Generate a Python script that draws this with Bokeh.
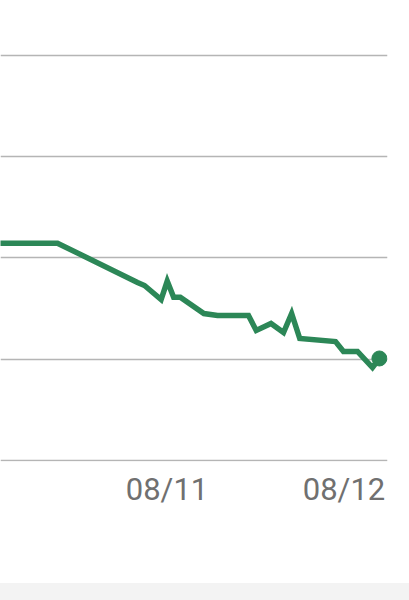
from datetime import datetime, timedelta
from bokeh.plotting import figure
from bokeh.models import Range1d, FixedTicker, Grid, DatetimeTickFormatter, Div, Column
from bokeh.embed import file_html
from bokeh.resources import INLINE

# hours relative to 08/12 00:00, and values
hours = [-48.0, -38.85, -28.0, -27.05, -24.8, -23.97, -23.1, -22.2, -19.0, -17.15,
         -12.95, -11.9, -9.9, -8.2, -7.1, -6.0, -1.15, -0.07, 1.83, 3.86, 4.8]
values = [41.46, 41.46, 37.59, 37.29, 35.91, 37.73, 36.14, 36.14, 34.53, 34.33,
          34.33, 32.86, 33.55, 32.66, 34.53, 32.07, 31.77, 30.79, 30.79, 29.21, 30.1]
grid_values = [20, 30, 40, 50, 60]
tick_days = ["2023-08-11", "2023-08-12"]

base = datetime(2023, 8, 12)
times = [base + timedelta(hours=h) for h in hours]
ticks = [datetime.strptime(d, "%Y-%m-%d").timestamp() * 1000 for d in tick_days]

p = figure(width=409, height=583, x_axis_type="datetime", y_axis_location=None,
           output_backend="svg", toolbar_location=None,
           x_range=Range1d(base - timedelta(hours=46.58), base + timedelta(hours=5.9)),
           y_range=Range1d(19.95, 65.37),
           min_border_left=0, min_border_right=22, min_border_top=0, min_border_bottom=122)
p.outline_line_color = None
p.xgrid.visible = False
p.ygrid.visible = False
p.add_layout(Grid(dimension=1, ticker=FixedTicker(ticks=grid_values),
                  grid_line_color="#b5b5b5", grid_line_width=1.5), "center")

p.xaxis.ticker = FixedTicker(ticks=ticks)
p.xaxis.formatter = DatetimeTickFormatter(days="%m/%d", months="%m/%d", hours="%m/%d")
p.xaxis.axis_line_color = None
p.xaxis.major_tick_line_color = None
p.xaxis.minor_tick_line_color = None
p.xaxis.major_tick_out = 0
p.xaxis.major_label_standoff = 9
p.xaxis.major_label_text_font = "Roboto"
p.xaxis.major_label_text_font_size = "31px"
p.xaxis.major_label_text_color = "#707070"

p.line(times, values, line_color="#2c8757", line_width=5.5, line_join="miter")
p.scatter([times[-1]], [values[-1]], size=15, color="#2c8757")

band = Div(width=409, height=17, margin=0, styles={"background-color": "#f3f3f3"})
layout = Column(p, band, spacing=0)

open("out.html", "w").write(file_html(layout, INLINE))
